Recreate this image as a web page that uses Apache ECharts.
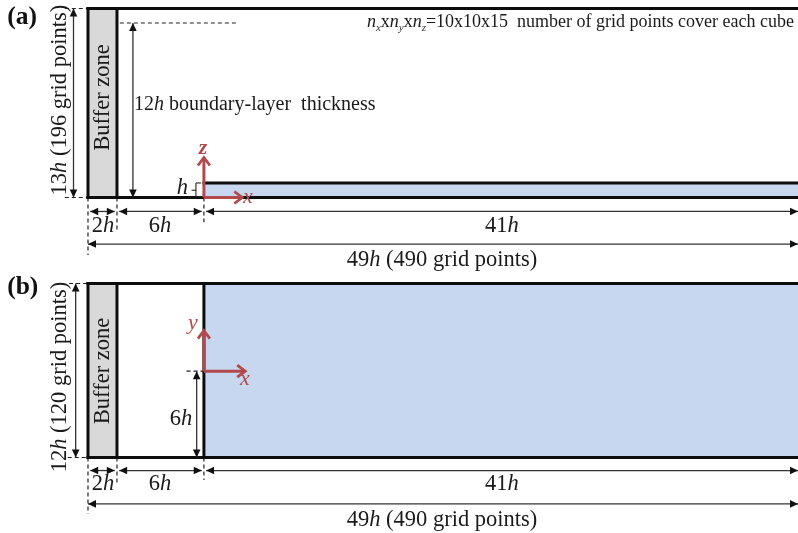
<!DOCTYPE html>
<html><head><meta charset="utf-8">
<style>html,body{margin:0;padding:0;background:#fff}#c{width:798px;height:533px}</style>
<script src="https://cdn.jsdelivr.net/npm/echarts@6/dist/echarts.min.js"></script>
</head><body><div id="c"></div>
<script>
// All geometry in units of h. Streamwise origin = start of the blue block.
const xStart = -8, xBuffer = -6, xOrigin = 0, xEnd = 41;
const zTop = 13, layerTop = 1, blThickness = 12, yTop = 12, yCentre = 6;

// [x1, y1, x2, y2, fill]
const panelAFills = [[xStart, 0, xBuffer, zTop, 0], [xOrigin, 0, xEnd, layerTop, 1]];
const panelBFills = [[xStart, 0, xBuffer, yTop, 0], [xOrigin, 0, xEnd, yTop, 1]];

// thick walls [x1, y1, x2, y2]
const panelAWalls = [[xStart, zTop, xEnd, zTop], [xStart, 0, xEnd, 0], [xStart, 0, xStart, zTop], [xBuffer, 0, xBuffer, zTop], [xOrigin, layerTop, xEnd, layerTop]];
const panelBWalls = [[xStart, yTop, xEnd, yTop], [xStart, 0, xEnd, 0], [xStart, 0, xStart, yTop], [xBuffer, 0, xBuffer, yTop], [xOrigin, 0, xOrigin, yTop]];

// dimension arrows [x1, y1, x2, y2]
const panelADims = [[-9.0, 0, -9.0, 13], [-4.9, 0, -4.9, 12], [-7.85, -0.96, -6.15, -0.96], [-5.85, -0.96, -0.15, -0.96], [0.15, -0.96, 41, -0.96], [-8, -3.2, 41, -3.2]];
const panelBDims = [[-8.85, 0, -8.85, 12], [-0.5, 0, -0.5, 5.95], [-7.85, -0.9, -6.15, -0.9], [-5.85, -0.9, -0.15, -0.9], [0.15, -0.9, 41, -0.9], [-8, -3.2, 41, -3.2]];

// dashed guides [x1, y1, x2, y2]
const panelAGuides = [[-9.6, 13, -8, 13], [-9.6, 0, -8, 0], [-5.8, 12, 2.3, 12], [-8, 0, -8, -3.95], [-6, 0, -6, -2.2], [0, 0, 0, -1.7]];
const panelBGuides = [[-9.3, 12, -8, 12], [-9.4, 0, -8, 0], [-1.2, 5.95, 0, 5.95], [-8, 0, -8, -3.9], [-6, 0, -6, -1.9], [0, 0, 0, -1.55]];

// the small "h-{" bracket of panel (a)
const panelABracket = [[-0.55, 0.05, -0.2, 0.05], [-0.55, 0.5, -0.85, 0.5], [-0.55, 1, -0.2, 1], [-0.55, 0.05, -0.55, 1]];

// red axes [x1, y1, x2, y2]
const panelAAxes = [[0, 0, 0, 2.75], [0, 0, 2.65, 0]];
const panelBAxes = [[0, 5.95, 0, 8.75], [0, 5.95, 2.85, 5.95]];

// [x, y, labelIndex, mode]
const labels = [
  '{b|(a)}', '{t|Buffer zone}', '{t|13}{i|h}{t| (196 grid points)}', '{m|12}{mi|h}{m| boundary-layer  thickness}',
  '{ni|n}{sub|x}{n|x}{ni|n}{sub|y}{n|x}{ni|n}{sub|z}{n|=10x10x15  number of grid points cover each cube}',
  '{i|h}', '{rz|z}', '{rx|x}', '{t|2}{i|h}', '{t|6}{i|h}', '{t|41}{i|h}', '{t|49}{i|h}{t| (490 grid points)}',
  '{b|(b)}', '{t|12}{i|h}{t| (120 grid points)}', '{ry|y}'
];
const panelALabels = [[-13.58, 12.41, 0, 0], [-6.95, 6.88, 1, 1], [-9.93, 6.7, 2, 1], [-4.83, 6.36, 3, 0], [11.25, 12.07, 4, 0],
  [-1.48, 0.62, 5, 2], [-0.06, 3.4, 6, 2], [3.04, 0, 7, 2], [-6.96, -1.95, 8, 2], [-3.03, -1.95, 9, 2], [20.57, -1.95, 10, 2], [16.43, -4.3, 11, 2]];
const panelBLabels = [[-13.58, 11.76, 12, 0], [-6.95, 5.97, 1, 1], [-9.93, 5.55, 13, 1], [-1.58, 2.65, 9, 2], [-0.76, 9.28, 14, 2], [2.83, 5.41, 7, 2],
  [-6.96, -1.85, 8, 2], [-3.03, -1.85, 9, 2], [20.57, -1.85, 10, 2], [16.43, -4.3, 11, 2]];

const serif = '"Liberation Serif","Times New Roman",serif';
const red = '#b04a4c';
const rich = {
  t: {fontFamily: serif, fontSize: 22.5, fill: '#1a1a1a'},
  i: {fontFamily: serif, fontSize: 22.5, fontStyle: 'italic', fill: '#1a1a1a'},
  m: {fontFamily: serif, fontSize: 20, fill: '#1a1a1a'},
  mi: {fontFamily: serif, fontSize: 20, fontStyle: 'italic', fill: '#1a1a1a'},
  b: {fontFamily: serif, fontSize: 25.5, fontWeight: 'bold', fill: '#111'},
  n: {fontFamily: serif, fontSize: 18, fill: '#1a1a1a'},
  ni: {fontFamily: serif, fontSize: 18, fontStyle: 'italic', fill: '#1a1a1a'},
  sub: {fontFamily: serif, fontSize: 11, fontStyle: 'italic', fill: '#333', verticalAlign: 'bottom', lineHeight: 24},
  rx: {fontFamily: serif, fontSize: 22, fontStyle: 'italic', fill: red},
  ry: {fontFamily: serif, fontSize: 22, fontStyle: 'italic', fill: red},
  rz: {fontFamily: serif, fontSize: 22, fontStyle: 'italic', fontWeight: 'bold', fill: red}
};
const fills = ['#d9d9d9', '#c6d7ef'];

function ends(api) {
  return [api.coord([api.value(0), api.value(1)]), api.coord([api.value(2), api.value(3)])];
}
function fillItem(p, api) {
  const [a, b] = ends(api);
  return {type: 'rect', shape: {x: Math.min(a[0], b[0]), y: Math.min(a[1], b[1]), width: Math.abs(a[0] - b[0]), height: Math.abs(a[1] - b[1])},
    style: {fill: fills[api.value(4)]}};
}
function segItem(style) {
  return (p, api) => { const [a, b] = ends(api);
    return {type: 'line', shape: {x1: a[0], y1: a[1], x2: b[0], y2: b[1]}, style}; };
}
function head(tip, from, len, wid) {
  const d = Math.hypot(tip[0] - from[0], tip[1] - from[1]) || 1;
  const ux = (tip[0] - from[0]) / d, uy = (tip[1] - from[1]) / d;
  const bx = tip[0] - ux * len, by = tip[1] - uy * len;
  return [[bx - uy * wid, by + ux * wid], tip, [bx + uy * wid, by - ux * wid]];
}
function dimItem(p, api) {
  const [a, b] = ends(api);
  const ch = [{type: 'line', shape: {x1: a[0], y1: a[1], x2: b[0], y2: b[1]}, style: {stroke: '#333', lineWidth: 1.3}}];
  [[b, a], [a, b]].forEach(([t, f]) => ch.push({type: 'polygon', shape: {points: head(t, f, 8, 3.8)}, style: {fill: '#111'}}));
  return {type: 'group', children: ch};
}
function axisItem(p, api) {
  const [a, b] = ends(api);
  return {type: 'group', children: [
    {type: 'line', shape: {x1: a[0], y1: a[1], x2: b[0], y2: b[1]}, style: {stroke: red, lineWidth: 3}},
    {type: 'polyline', shape: {points: head(b, a, 8, 6)}, style: {stroke: red, lineWidth: 2.8, fill: null}}
  ]};
}
function labelItem(p, api) {
  const c = api.coord([api.value(0), api.value(1)]);
  const mode = api.value(3);
  return {type: 'text', x: c[0], y: c[1], rotation: mode === 1 ? Math.PI / 2 : 0,
    style: {text: labels[api.value(2)], rich, align: mode === 0 ? 'left' : 'center', verticalAlign: 'middle'}};
}
function mk(idx, data, renderItem, z) {
  return {type: 'custom', coordinateSystem: 'cartesian2d', xAxisIndex: idx, yAxisIndex: idx, data, renderItem, z, clip: false, silent: true, animation: false};
}
const wallStyle = {stroke: '#0d0d0d', lineWidth: 3, lineCap: 'square'};
const thin = {stroke: '#222', lineWidth: 1.2, lineDash: [4, 3]};
const bracket = {stroke: '#222', lineWidth: 1.1};
const series = [];
[[panelAFills, panelAWalls, panelADims, panelAGuides, panelAAxes, panelALabels], [panelBFills, panelBWalls, panelBDims, panelBGuides, panelBAxes, panelBLabels]]
 .forEach((s, i) => {
   series.push(mk(i, s[0], fillItem, 1), mk(i, s[3], segItem(thin), 2), mk(i, s[1], segItem(wallStyle), 3),
     mk(i, s[2], dimItem, 4), mk(i, s[4], axisItem, 5), mk(i, s[5], labelItem, 6));
 });
series.push(mk(0, panelABracket, segItem(bracket), 4));

const axisBase = {type: 'value', show: false, splitLine: {show: false}};
const chart = echarts.init(document.getElementById('c'), null, {renderer: 'canvas'});
chart.setOption({
  animation: false, backgroundColor: '#fff',
  grid: [{left: 0, right: 0, top: 0, height: 270}, {left: 0, right: 0, top: 270, height: 263}],
  xAxis: [Object.assign({gridIndex: 0, min: -14.073, max: 41}, axisBase), Object.assign({gridIndex: 1, min: -14.073, max: 41}, axisBase)],
  yAxis: [Object.assign({gridIndex: 0, min: -4.986, max: 13.583}, axisBase), Object.assign({gridIndex: 1, min: -5.207, max: 12.931}, axisBase)],
  series
});
</script></body></html>
